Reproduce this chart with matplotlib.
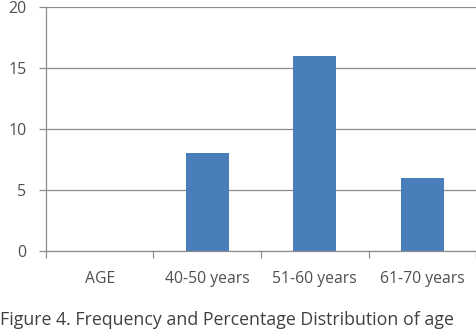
import matplotlib
matplotlib.use("Agg")
import matplotlib.pyplot as plt
import numpy as np

categories = ["AGE", "40-50 years", "51-60 years", "61-70 years"]
values = [0, 8, 16, 6]
yticks = [0, 5, 10, 15, 20]

plt.rcParams['font.family'] = ['Open Sans', 'DejaVu Sans']

fig = plt.figure(figsize=(4.77, 3.33), dpi=100)
ax = fig.add_axes([0.0964, 0.246, 0.9016, 0.733])

x = np.arange(len(categories))
ax.bar(x, values, width=0.4, color="#4A7EBB", zorder=3)

ax.set_xlim(-0.5, len(categories) - 0.5)
ax.set_ylim(0, 20)
ax.set_yticks(yticks)
ax.yaxis.grid(True, color="#8C8C8C", linewidth=0.9, zorder=0)

ax.set_xticks(x)
ax.set_xticklabels(categories)
ax.set_xticks(np.arange(-0.5, len(categories)), minor=True)
ax.tick_params(axis='x', which='major', length=0, pad=14, labelsize=11.3, labelcolor="#505050")
ax.tick_params(axis='x', which='minor', length=5, color="#8C8C8C", width=0.9)
ax.tick_params(axis='y', length=5, color="#8C8C8C", width=0.9, labelsize=11.5, labelcolor="#505050", pad=9)

for s in ["top", "right"]:
    ax.spines[s].set_visible(False)
ax.spines["left"].set_color("#8C8C8C")
ax.spines["bottom"].set_color("#8C8C8C")
ax.spines["left"].set_linewidth(0.9)
ax.spines["bottom"].set_linewidth(0.9)

fig.text(0.0, 1 - 320/333, "Figure 4. Frequency and Percentage Distribution of age",
         ha="left", va="center", fontsize=12.8, color="#404040")

fig.savefig("out.png", dpi=100)
